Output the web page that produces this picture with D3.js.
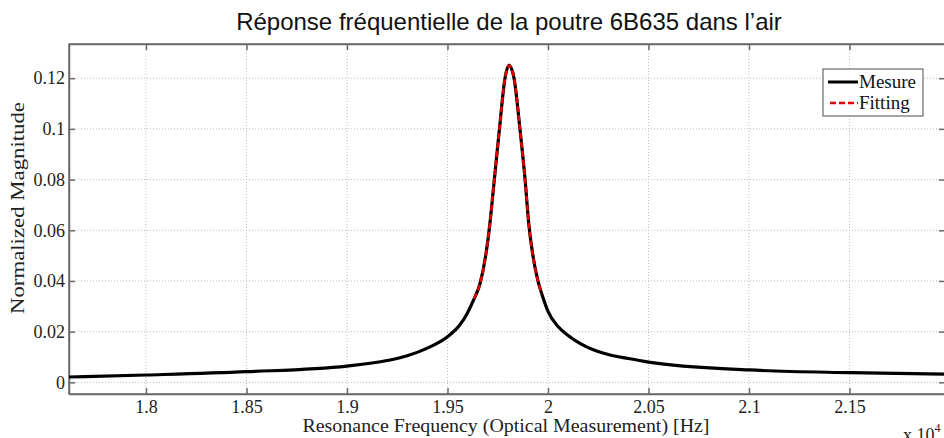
<!DOCTYPE html>
<html><head><meta charset="utf-8">
<script src="https://cdn.jsdelivr.net/npm/d3@7"></script>
<style>body{margin:0;background:#fff}svg{display:block}</style>
</head><body><svg id="c" width="944" height="438"></svg>
<script>
// ---- data ----
const mesureFreq = [17617,18000,18500,19000,19200,19300,19400,19500,19560,19600,19630,19662,19690,19710,19733,19758,19786,19806,19831,19861,19886,19905,19925,19950,19975,20000,20050,20100,20200,20300,20400,20500,21000,21500,22000];
const mesureVal  = [0.0021,0.0029,0.0042,0.0064,0.0086,0.0105,0.0135,0.0180,0.0225,0.0275,0.0325,0.0390,0.0500,0.0620,0.0800,0.0996,0.1200,0.1252,0.1200,0.0996,0.0800,0.0620,0.0500,0.0400,0.0335,0.0280,0.0220,0.0185,0.0137,0.0110,0.0094,0.0080,0.0049,0.0038,0.0032];
const fitFreq = [19632,19662,19690,19710,19733,19758,19786,19806,19831,19861,19886,19905,19925,19950,19970];
const fitVal  = [0.0330,0.0390,0.0500,0.0620,0.0800,0.0996,0.1200,0.1250,0.1200,0.0996,0.0800,0.0620,0.0500,0.0400,0.0350];
const xTicks = [18000,18500,19000,19500,20000,20500,21000,21500];
const xTickLabels = ["1.8","1.85","1.9","1.95","2","2.05","2.1","2.15"];
const yTicks = [0,0.02,0.04,0.06,0.08,0.1,0.12];
const yTickLabels = ["0","0.02","0.04","0.06","0.08","0.1","0.12"];
const legendLabels = ["Mesure","Fitting"];
const title = "Réponse fréquentielle de la poutre 6B635 dans l’air";
const xLabel = "Resonance Frequency (Optical Measurement) [Hz]";
const yLabel = "Normalized Magnitude";

// ---- layout ----
const L=69, T=44, R=945, B=394;
const svg=d3.select("#c");
const x=d3.scaleLinear().domain([17617,22000]).range([L,L+(22000-17617)/4.975]);
const y=d3.scaleLinear().domain([-0.0046,0.1335]).range([B,T]);
const serif="'Liberation Serif','DejaVu Serif',serif";
const gridCol="#bdbdbd", axCol="#6a6a6a";

svg.append("defs").append("clipPath").attr("id","pc").append("rect").attr("x",L).attr("y",T).attr("width",R-L).attr("height",B-T);

// grid
const g=svg.append("g");
g.selectAll(".gx").data(xTicks).join("line").attr("x1",d=>x(d)).attr("x2",d=>x(d)).attr("y1",T).attr("y2",B)
 .attr("stroke",gridCol).attr("stroke-width",1).attr("stroke-dasharray","1,2");
g.selectAll(".gy").data(yTicks).join("line").attr("x1",L).attr("x2",R).attr("y1",d=>y(d)).attr("y2",d=>y(d))
 .attr("stroke",gridCol).attr("stroke-width",1).attr("stroke-dasharray","1,2");

// axes
const fmtX=(d)=>xTickLabels[xTicks.indexOf(d)];
const fmtY=(d)=>yTickLabels[yTicks.indexOf(d)];
const ax=svg.append("g").attr("transform",`translate(0,${B})`).call(d3.axisBottom(x).tickValues(xTicks).tickFormat(fmtX).tickSizeInner(-6).tickSizeOuter(0).tickPadding(6));
const axT=svg.append("g").attr("transform",`translate(0,${T})`).call(d3.axisTop(x).tickValues(xTicks).tickFormat("").tickSizeInner(-6).tickSizeOuter(0));
const ay=svg.append("g").attr("transform",`translate(${L},0)`).call(d3.axisLeft(y).tickValues(yTicks).tickFormat(fmtY).tickSizeInner(-6).tickSizeOuter(0).tickPadding(4));
const ayR=svg.append("g").attr("transform",`translate(${R},0)`).call(d3.axisRight(y).tickValues(yTicks).tickFormat("").tickSizeInner(-6).tickSizeOuter(0));
[ax,axT,ay,ayR].forEach(a=>{
  a.select(".domain").attr("stroke",axCol).attr("stroke-width",1.5);
  a.selectAll(".tick line").attr("stroke",axCol).attr("stroke-width",1.5);
  a.selectAll("text").attr("font-family",serif).attr("font-size",18).attr("fill","#222");
});
svg.append("rect").attr("x",L).attr("y",T).attr("width",R-L).attr("height",B-T).attr("fill","none").attr("stroke",axCol).attr("stroke-width",1.5);

// lines
const line=d3.line().x(d=>x(d[0])).y(d=>y(d[1])).curve(d3.curveMonotoneX);
const plot=svg.append("g").attr("clip-path","url(#pc)");
plot.append("path").datum(mesureFreq.map((f,i)=>[f,mesureVal[i]])).attr("d",line)
 .attr("fill","none").attr("stroke","#000").attr("stroke-width",3.2).attr("stroke-linejoin","round");
plot.append("path").datum(fitFreq.map((f,i)=>[f,fitVal[i]])).attr("d",line)
 .attr("fill","none").attr("stroke","#e00000").attr("stroke-width",2.6).attr("stroke-dasharray","6,3");

// legend
const lg=svg.append("g");
lg.append("rect").attr("x",823).attr("y",69).attr("width",100).attr("height",47).attr("fill","#fff").attr("stroke",axCol).attr("stroke-width",1.2);
lg.append("line").attr("x1",828).attr("x2",858).attr("y1",82).attr("y2",82).attr("stroke","#000").attr("stroke-width",3);
lg.append("line").attr("x1",830).attr("x2",858).attr("y1",103).attr("y2",103).attr("stroke","#e00000").attr("stroke-width",2.6).attr("stroke-dasharray","6,3");
lg.selectAll("text").data(legendLabels).join("text").attr("x",859).attr("y",(d,i)=>88+i*21).text(d=>d)
 .attr("font-family",serif).attr("font-size",19).attr("fill","#111");

// labels
svg.append("text").attr("x",509).attr("y",30).attr("text-anchor","middle").text(title)
 .attr("font-family","'Liberation Sans',Arial,sans-serif").attr("font-size",24).attr("fill","#111");
svg.append("text").attr("x",506).attr("y",432).attr("text-anchor","middle").text(xLabel)
 .attr("font-family",serif).attr("font-size",19).attr("textLength",407).attr("lengthAdjust","spacingAndGlyphs").attr("fill","#222");
svg.append("text").attr("transform","translate(24,208) rotate(-90)").attr("text-anchor","middle").text(yLabel)
 .attr("font-family",serif).attr("font-size",19).attr("textLength",212).attr("lengthAdjust","spacingAndGlyphs").attr("fill","#222");
const ex=svg.append("text").attr("x",903).attr("y",441).attr("font-family",serif).attr("font-size",18).attr("fill","#222");
ex.append("tspan").text("x 10");
ex.append("tspan").attr("dy",-9).attr("font-size",12).text("4");
</script></body></html>
